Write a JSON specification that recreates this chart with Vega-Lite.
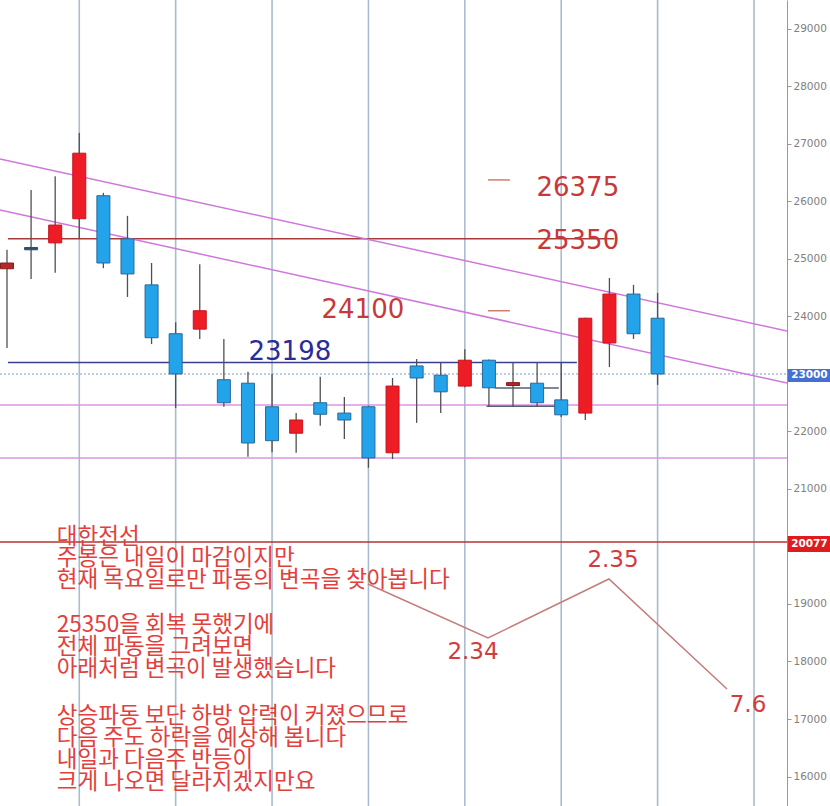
{
  "$schema": "https://vega.github.io/schema/vega-lite/v6.json",
  "width": 787,
  "height": 806,
  "autosize": {"type": "none"},
  "padding": {"left": 0, "top": 0, "right": 43, "bottom": 0},
  "background": "white",
  "config": {"view": {"stroke": null}, "font": "DejaVu Sans", "scale": {"continuousPadding": 0}},
  "resolve": {"scale": {"color": "independent", "fill": "independent", "stroke": "independent"}},
  "datasets": {
    "grid": [{"w": 4}, {"w": 8}, {"w": 12}, {"w": 16}, {"w": 20}, {"w": 24}, {"w": 28}, {"w": 32}],
    "hlines": [
      {"name": "h25350", "v": 25350, "x1": 1.04, "x2": 26.2},
      {"name": "h23198", "v": 23198, "x1": 1.04, "x2": 24.65},
      {"name": "mag1", "v": 22460, "x1": 0.71, "x2": 33.37},
      {"name": "mag2", "v": 21540, "x1": 0.71, "x2": 33.37},
      {"name": "h20077", "v": 20077, "x1": 0.71, "x2": 33.37},
      {"name": "seg1", "v": 22757, "x1": 21.25, "x2": 23.9},
      {"name": "seg2", "v": 22440, "x1": 20.9, "x2": 23.9},
      {"name": "dash1", "v": 26375, "x1": 20.96, "x2": 21.87},
      {"name": "dash2", "v": 24100, "x1": 20.96, "x2": 21.87}
    ],
    "dotted": [{"v": 23000, "x1": 0.71, "x2": 33.37}],
    "trend": [
      {"line": "upper", "w": 0.71, "v": 26739},
      {"line": "upper", "w": 33.37, "v": 23748},
      {"line": "lower", "w": 0.71, "v": 25852},
      {"line": "lower", "w": 33.37, "v": 22843}
    ],
    "zig": [
      {"w": 15.98, "v": 19348},
      {"w": 20.96, "v": 18409},
      {"w": 25.98, "v": 19435},
      {"w": 30.88, "v": 17522}
    ],
    "candles": [
      {"w": 1, "open": 24830, "high": 25160, "low": 23450, "close": 24930, "dir": "dojiR"},
      {"w": 2, "open": 25160, "high": 26200, "low": 24650, "close": 25200, "dir": "dojiB"},
      {"w": 3, "open": 25280, "high": 26440, "low": 24760, "close": 25590, "dir": "up"},
      {"w": 4, "open": 25700, "high": 27190, "low": 25350, "close": 26840, "dir": "up"},
      {"w": 5, "open": 26100, "high": 26150, "low": 24840, "close": 24930, "dir": "down"},
      {"w": 6, "open": 25350, "high": 25750, "low": 24340, "close": 24740, "dir": "down"},
      {"w": 7, "open": 24550, "high": 24930, "low": 23520, "close": 23630, "dir": "down"},
      {"w": 8, "open": 23700, "high": 23900, "low": 22410, "close": 23000, "dir": "down"},
      {"w": 9, "open": 23780, "high": 24910, "low": 23610, "close": 24100, "dir": "up"},
      {"w": 10, "open": 22900, "high": 23610, "low": 22430, "close": 22500, "dir": "down"},
      {"w": 11, "open": 22840, "high": 23040, "low": 21560, "close": 21800, "dir": "down"},
      {"w": 12, "open": 22430, "high": 23000, "low": 21640, "close": 21840, "dir": "down"},
      {"w": 13, "open": 21970, "high": 22320, "low": 21630, "close": 22200, "dir": "up"},
      {"w": 14, "open": 22500, "high": 22950, "low": 22100, "close": 22300, "dir": "down"},
      {"w": 15, "open": 22320, "high": 22600, "low": 21870, "close": 22200, "dir": "down"},
      {"w": 16, "open": 22430, "high": 22450, "low": 21370, "close": 21540, "dir": "down"},
      {"w": 17, "open": 21630, "high": 22930, "low": 21520, "close": 22790, "dir": "up"},
      {"w": 18, "open": 23140, "high": 23260, "low": 22150, "close": 22930, "dir": "down"},
      {"w": 19, "open": 22980, "high": 23190, "low": 22320, "close": 22690, "dir": "down"},
      {"w": 20, "open": 22790, "high": 23430, "low": 22770, "close": 23240, "dir": "up"},
      {"w": 21, "open": 23240, "high": 23250, "low": 22430, "close": 22760, "dir": "down"},
      {"w": 22, "open": 22800, "high": 23190, "low": 22430, "close": 22850, "dir": "dojiR"},
      {"w": 23, "open": 22840, "high": 23190, "low": 22430, "close": 22500, "dir": "down"},
      {"w": 24, "open": 22550, "high": 23190, "low": 22250, "close": 22290, "dir": "down"},
      {"w": 25, "open": 22320, "high": 23980, "low": 22200, "close": 23970, "dir": "up"},
      {"w": 26, "open": 23540, "high": 24670, "low": 23120, "close": 24390, "dir": "up"},
      {"w": 27, "open": 24390, "high": 24550, "low": 23610, "close": 23700, "dir": "down"},
      {"w": 28, "open": 23970, "high": 24410, "low": 22810, "close": 23000, "dir": "down"}
    ],
    "bignum": [
      {"t": "26375", "w": 24.69, "v": 26235, "kind": "red"},
      {"t": "25350", "w": 24.69, "v": 25313, "kind": "red"},
      {"t": "24100", "w": 15.77, "v": 24113, "kind": "red"},
      {"t": "23198", "w": 12.74, "v": 23383, "kind": "navy"}
    ],
    "wave": [
      {"t": "2.34", "w": 20.34, "v": 18165},
      {"t": "2.35", "w": 26.15, "v": 19765},
      {"t": "7.6", "w": 31.75, "v": 17243}
    ],
    "notes": [
      {"t": "대한전선", "w": 3.07, "v": 20165},
      {"t": "주봉은 내일이 마감이지만", "w": 3.07, "v": 19800},
      {"t": "현재 목요일로만 파동의 변곡을 찾아봅니다", "w": 3.07, "v": 19417},
      {"t": "25350을 회복 못했기에", "w": 3.07, "v": 18635},
      {"t": "전체 파동을 그려보면", "w": 3.07, "v": 18252},
      {"t": "아래처럼 변곡이 발생했습니다", "w": 3.07, "v": 17870},
      {"t": "상승파동 보단 하방 압력이 커졌으므로", "w": 3.07, "v": 17052},
      {"t": "다음 주도 하락을 예상해 봅니다", "w": 3.07, "v": 16670},
      {"t": "내일과 다음주 반등이", "w": 3.07, "v": 16287},
      {"t": "크게 나오면 달라지겠지만요", "w": 3.07, "v": 15904}
    ],
    "boxes": [
      {"t": "23000", "x1": 33.4, "x2": 35.3, "top": 23087, "bot": 22861, "w": 34.3, "v": 22974, "kind": "blue"},
      {"t": "20077", "x1": 33.4, "x2": 35.3, "top": 20183, "bot": 19904, "w": 34.3, "v": 20044, "kind": "red"}
    ]
  },
  "layer": [
    {
      "data": {"name": "grid"},
      "mark": {"type": "rule", "color": "#a9bccd", "strokeWidth": 1.6},
      "encoding": {
        "x": {"field": "w", "type": "quantitative", "scale": {"domain": [0.71, 33.37], "nice": false, "zero": false, "padding": 0}, "axis": null}
      }
    },
    {
      "data": {"name": "dotted"},
      "mark": {"type": "rule", "color": "#7f9bd4", "strokeWidth": 1, "strokeDash": [2, 2]},
      "encoding": {
        "x": {"field": "x1", "type": "quantitative", "scale": {"domain": [0.71, 33.37], "nice": false, "zero": false, "padding": 0}, "axis": null},
        "x2": {"field": "x2"},
        "y": {"field": "v", "type": "quantitative", "scale": {"domain": [15487, 29504], "nice": false, "zero": false, "padding": 0},
          "axis": {"orient": "right", "values": [16000, 17000, 18000, 19000, 21000, 22000, 24000, 25000, 26000, 27000, 28000, 29000], "title": null, "labelColor": "#808080", "labelFontSize": 10.5, "labelFont": "DejaVu Sans", "tickColor": "#999999", "tickSize": 4, "domainColor": "#999999", "grid": false, "labelPadding": 2, "format": "d"}}
      }
    },
    {
      "data": {"name": "hlines"},
      "mark": {"type": "rule", "strokeWidth": 1.5},
      "encoding": {
        "x": {"field": "x1", "type": "quantitative", "scale": {"domain": [0.71, 33.37], "nice": false, "zero": false, "padding": 0}, "axis": null},
        "x2": {"field": "x2"},
        "y": {"field": "v", "type": "quantitative", "scale": {"domain": [15487, 29504], "nice": false, "zero": false, "padding": 0},
          "axis": {"orient": "right", "values": [16000, 17000, 18000, 19000, 21000, 22000, 24000, 25000, 26000, 27000, 28000, 29000], "title": null, "labelColor": "#808080", "labelFontSize": 10.5, "labelFont": "DejaVu Sans", "tickColor": "#999999", "tickSize": 4, "domainColor": "#999999", "grid": false, "labelPadding": 2, "format": "d"}},
        "color": {"field": "name", "type": "nominal", "legend": null,
          "scale": {"domain": ["h25350", "h23198", "mag1", "mag2", "h20077", "seg1", "seg2", "dash1", "dash2"],
                    "range": ["#a83a3a", "#3b3f8f", "#dc94e4", "#dc94e4", "#b23535", "#556070", "#556070", "#d27d6e", "#d27d6e"]}}
      }
    },
    {
      "data": {"name": "trend"},
      "mark": {"type": "line", "color": "#cf78dc", "strokeWidth": 1.5, "clip": true},
      "encoding": {
        "x": {"field": "w", "type": "quantitative", "scale": {"domain": [0.71, 33.37], "nice": false, "zero": false, "padding": 0}, "axis": null},
        "y": {"field": "v", "type": "quantitative", "scale": {"domain": [15487, 29504], "nice": false, "zero": false, "padding": 0},
          "axis": {"orient": "right", "values": [16000, 17000, 18000, 19000, 21000, 22000, 24000, 25000, 26000, 27000, 28000, 29000], "title": null, "labelColor": "#808080", "labelFontSize": 10.5, "labelFont": "DejaVu Sans", "tickColor": "#999999", "tickSize": 4, "domainColor": "#999999", "grid": false, "labelPadding": 2, "format": "d"}},
        "detail": {"field": "line"}
      }
    },
    {
      "data": {"name": "zig"},
      "mark": {"type": "line", "color": "#c47c7c", "strokeWidth": 1.5},
      "encoding": {
        "x": {"field": "w", "type": "quantitative", "scale": {"domain": [0.71, 33.37], "nice": false, "zero": false, "padding": 0}, "axis": null},
        "y": {"field": "v", "type": "quantitative", "scale": {"domain": [15487, 29504], "nice": false, "zero": false, "padding": 0},
          "axis": {"orient": "right", "values": [16000, 17000, 18000, 19000, 21000, 22000, 24000, 25000, 26000, 27000, 28000, 29000], "title": null, "labelColor": "#808080", "labelFontSize": 10.5, "labelFont": "DejaVu Sans", "tickColor": "#999999", "tickSize": 4, "domainColor": "#999999", "grid": false, "labelPadding": 2, "format": "d"}}
      }
    },
    {
      "data": {"name": "candles"},
      "mark": {"type": "rule", "color": "#505050", "strokeWidth": 1.3},
      "encoding": {
        "x": {"field": "w", "type": "quantitative", "scale": {"domain": [0.71, 33.37], "nice": false, "zero": false, "padding": 0}, "axis": null},
        "y": {"field": "low", "type": "quantitative", "scale": {"domain": [15487, 29504], "nice": false, "zero": false, "padding": 0},
          "axis": {"orient": "right", "values": [16000, 17000, 18000, 19000, 21000, 22000, 24000, 25000, 26000, 27000, 28000, 29000], "title": null, "labelColor": "#808080", "labelFontSize": 10.5, "labelFont": "DejaVu Sans", "tickColor": "#999999", "tickSize": 4, "domainColor": "#999999", "grid": false, "labelPadding": 2, "format": "d"}},
        "y2": {"field": "high"}
      }
    },
    {
      "data": {"name": "candles"},
      "mark": {"type": "bar", "width": 13, "strokeWidth": 1},
      "encoding": {
        "x": {"field": "w", "type": "quantitative", "scale": {"domain": [0.71, 33.37], "nice": false, "zero": false, "padding": 0}, "axis": null},
        "y": {"field": "open", "type": "quantitative", "scale": {"domain": [15487, 29504], "nice": false, "zero": false, "padding": 0},
          "axis": {"orient": "right", "values": [16000, 17000, 18000, 19000, 21000, 22000, 24000, 25000, 26000, 27000, 28000, 29000], "title": null, "labelColor": "#808080", "labelFontSize": 10.5, "labelFont": "DejaVu Sans", "tickColor": "#999999", "tickSize": 4, "domainColor": "#999999", "grid": false, "labelPadding": 2, "format": "d"}},
        "y2": {"field": "close"},
        "fill": {"field": "dir", "type": "nominal", "legend": null,
          "scale": {"domain": ["up", "down", "dojiR", "dojiB"], "range": ["#ee1c24", "#22a3ea", "#b02a2a", "#2b4f70"]}},
        "stroke": {"field": "dir", "type": "nominal", "legend": null,
          "scale": {"domain": ["up", "down", "dojiR", "dojiB"], "range": ["#c8141c", "#2a6898", "#8a1a1a", "#2b4f70"]}}
      }
    },
    {
      "data": {"name": "bignum"},
      "mark": {"type": "text", "font": "DejaVu Sans", "fontSize": 26, "align": "center", "baseline": "middle"},
      "encoding": {
        "x": {"field": "w", "type": "quantitative", "scale": {"domain": [0.71, 33.37], "nice": false, "zero": false, "padding": 0}, "axis": null},
        "y": {"field": "v", "type": "quantitative", "scale": {"domain": [15487, 29504], "nice": false, "zero": false, "padding": 0},
          "axis": {"orient": "right", "values": [16000, 17000, 18000, 19000, 21000, 22000, 24000, 25000, 26000, 27000, 28000, 29000], "title": null, "labelColor": "#808080", "labelFontSize": 10.5, "labelFont": "DejaVu Sans", "tickColor": "#999999", "tickSize": 4, "domainColor": "#999999", "grid": false, "labelPadding": 2, "format": "d"}},
        "text": {"field": "t"},
        "color": {"field": "kind", "type": "nominal", "legend": null, "scale": {"domain": ["red", "navy"], "range": ["#c8383a", "#2a2c98"]}}
      }
    },
    {
      "data": {"name": "wave"},
      "mark": {"type": "text", "font": "DejaVu Sans", "fontSize": 23, "align": "center", "baseline": "middle", "color": "#d23c3c"},
      "encoding": {
        "x": {"field": "w", "type": "quantitative", "scale": {"domain": [0.71, 33.37], "nice": false, "zero": false, "padding": 0}, "axis": null},
        "y": {"field": "v", "type": "quantitative", "scale": {"domain": [15487, 29504], "nice": false, "zero": false, "padding": 0},
          "axis": {"orient": "right", "values": [16000, 17000, 18000, 19000, 21000, 22000, 24000, 25000, 26000, 27000, 28000, 29000], "title": null, "labelColor": "#808080", "labelFontSize": 10.5, "labelFont": "DejaVu Sans", "tickColor": "#999999", "tickSize": 4, "domainColor": "#999999", "grid": false, "labelPadding": 2, "format": "d"}},
        "text": {"field": "t"}
      }
    },
    {
      "data": {"name": "notes"},
      "mark": {"type": "text", "font": "Noto Sans CJK KR", "fontSize": 22.5, "align": "left", "baseline": "middle", "color": "#e2403c"},
      "encoding": {
        "x": {"field": "w", "type": "quantitative", "scale": {"domain": [0.71, 33.37], "nice": false, "zero": false, "padding": 0}, "axis": null},
        "y": {"field": "v", "type": "quantitative", "scale": {"domain": [15487, 29504], "nice": false, "zero": false, "padding": 0},
          "axis": {"orient": "right", "values": [16000, 17000, 18000, 19000, 21000, 22000, 24000, 25000, 26000, 27000, 28000, 29000], "title": null, "labelColor": "#808080", "labelFontSize": 10.5, "labelFont": "DejaVu Sans", "tickColor": "#999999", "tickSize": 4, "domainColor": "#999999", "grid": false, "labelPadding": 2, "format": "d"}},
        "text": {"field": "t"}
      }
    },
    {
      "data": {"name": "boxes"},
      "mark": {"type": "rect"},
      "encoding": {
        "x": {"field": "x1", "type": "quantitative", "scale": {"domain": [0.71, 33.37], "nice": false, "zero": false, "padding": 0}, "axis": null},
        "x2": {"field": "x2"},
        "y": {"field": "top", "type": "quantitative", "scale": {"domain": [15487, 29504], "nice": false, "zero": false, "padding": 0},
          "axis": {"orient": "right", "values": [16000, 17000, 18000, 19000, 21000, 22000, 24000, 25000, 26000, 27000, 28000, 29000], "title": null, "labelColor": "#808080", "labelFontSize": 10.5, "labelFont": "DejaVu Sans", "tickColor": "#999999", "tickSize": 4, "domainColor": "#999999", "grid": false, "labelPadding": 2, "format": "d"}},
        "y2": {"field": "bot"},
        "fill": {"field": "kind", "type": "nominal", "legend": null, "scale": {"domain": ["blue", "red"], "range": ["#4470d4", "#e01b1b"]}}
      }
    },
    {
      "data": {"name": "boxes"},
      "mark": {"type": "text", "font": "DejaVu Sans", "fontSize": 10.5, "fontWeight": "bold", "align": "center", "baseline": "middle", "color": "white"},
      "encoding": {
        "x": {"field": "w", "type": "quantitative", "scale": {"domain": [0.71, 33.37], "nice": false, "zero": false, "padding": 0}, "axis": null},
        "y": {"field": "v", "type": "quantitative", "scale": {"domain": [15487, 29504], "nice": false, "zero": false, "padding": 0},
          "axis": {"orient": "right", "values": [16000, 17000, 18000, 19000, 21000, 22000, 24000, 25000, 26000, 27000, 28000, 29000], "title": null, "labelColor": "#808080", "labelFontSize": 10.5, "labelFont": "DejaVu Sans", "tickColor": "#999999", "tickSize": 4, "domainColor": "#999999", "grid": false, "labelPadding": 2, "format": "d"}},
        "text": {"field": "t"}
      }
    }
  ]
}
